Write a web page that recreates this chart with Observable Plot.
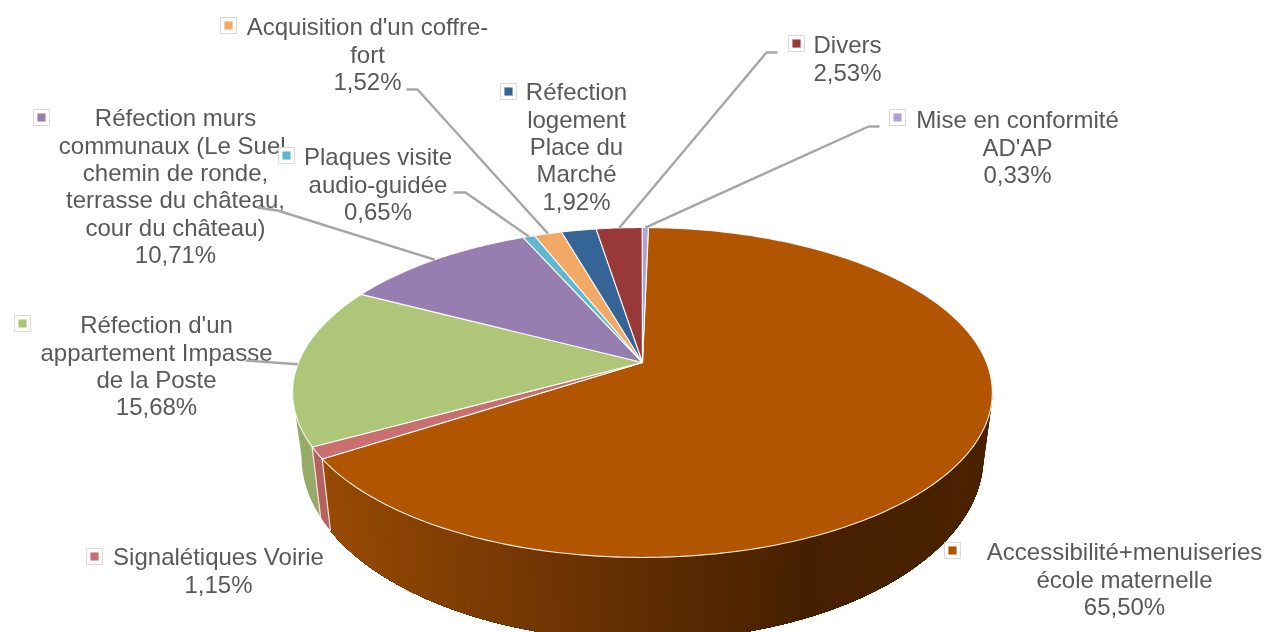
<!DOCTYPE html>
<html lang="fr">
<head>
<meta charset="utf-8">
<style>html,body{margin:0;padding:0;background:#fff;overflow:hidden}</style>
<script src="https://cdn.jsdelivr.net/npm/d3@7"></script>
<script src="https://cdn.jsdelivr.net/npm/@observablehq/plot@0.6"></script>
</head>
<body>
<div id="chart"></div>
<script>
// ---- data, clockwise from the top of the pie, percent
const categories = [
  "Accessibilité+menuiseries école maternelle",
  "Signalétiques Voirie",
  "Réfection d'un appartement Impasse de la Poste",
  "Réfection murs communaux (Le Suel, chemin de ronde, terrasse du château, cour du château)",
  "Plaques visite audio-guidée",
  "Acquisition d'un coffre-fort",
  "Réfection logement Place du Marché",
  "Divers",
  "Mise en conformité AD'AP"
];
const values = [65.50, 1.15, 15.68, 10.71, 0.65, 1.52, 1.92, 2.53, 0.33];
const percentLabels = ["65,50%","1,15%","15,68%","10,71%","0,65%","1,52%","1,92%","2,53%","0,33%"];
const colors = ["#b25500","#c96f6f","#adc677","#977eb0","#5fb8d0","#f3a966","#376496","#983937","#b3a2cf"];
const wallColors = [null,"#b5615f","#97ab68"];
// wrapped label lines, as set in the picture
const labelLines = [
  ["Accessibilité+menuiseries","école maternelle"],
  ["Signalétiques Voirie"],
  ["Réfection d'un","appartement Impasse","de la Poste"],
  ["Réfection murs","communaux (Le Suel,","chemin de ronde,","terrasse du château,","cour du château)"],
  ["Plaques visite","audio-guidée"],
  ["Acquisition d'un coffre-","fort"],
  ["Réfection","logement","Place du","Marché"],
  ["Divers"],
  ["Mise en conformité","AD'AP"]
];

// ---- layout of the annotations
const labelCx = [1124,218,156,175,377.5,367,576,847,1017];
const labelTop = [552,557,325,118,157,27,92,45,120];
const lineStep = 27.4;
const keyX = [952,94,22,41,286,228,508,796,897];
const keyY = [550,556,323,117,155,25,91,43,117];
const leaderStart = [null,null,[245,360],[257,207],[453,192],[406,89],null,[777,52],[879,126]];
const leaderElbow = [null,null,null,[277,210],[465,192],[417,89],null,[766,52],[868,126]];

// ---- pie geometry (perspective view of a circle)
const cx = 642, cy = 362, k = -0.1818, a = 159.5, b = 344;
const topE = {cy:392, rx:350, ry:165}, lowE = {cy:456, rx:341, ry:184};
const rad = d => d * Math.PI / 180;
const rim = t => {
  const u = Math.sin(rad(t)), v = -Math.cos(rad(t)), w = 1 + k * v;
  return [cx + b * u / w, cy + a * v / w];
};
const ell = (E, p) => [cx + E.rx * Math.sin(rad(p)), E.cy - E.ry * Math.cos(rad(p))];
const phiOf = t => {
  const [x, y] = rim(t);
  let p = Math.atan2((x - cx) / topE.rx, -(y - topE.cy) / topE.ry) * 180 / Math.PI;
  return p < 0 ? p + 360 : p;
};

const start0 = values[8] * 3.6;
let acc = start0;
const slices = values.map((v, i) => {
  const s = {i, t0: acc, t1: acc + v * 3.6};
  acc = s.t1;
  return s;
});

// top faces
const topPts = [];
slices.forEach(s => {
  const n = Math.max(2, Math.ceil(s.t1 - s.t0));
  const add = (x, y) => topPts.push({x, y, z: s.i, fill: colors[s.i]});
  add(cx, cy);
  for (let j = 0; j <= n; j++) { const [x, y] = rim(s.t0 + (s.t1 - s.t0) * j / n); add(x, y); }
  add(cx, cy);
});

// side wall: overlapping strips so no seams show
const orangeShade = d3.scaleLinear()
  .domain([330,400,550,640,750,800,990])
  .range(["#984b05","#8a4303","#703504","#5f2d02","#4f2401","#452000","#4a2200"]);
const phiA = phiOf(slices[0].t1), phiS = phiOf(slices[1].t1);
const wallPts = [];
const strip = (p0, p1, fill, id) => {
  const arc = [];
  const steps = Math.max(1, Math.ceil(p1 - p0));
  for (let j = 0; j <= steps; j++) arc.push(p0 + (p1 - p0) * j / steps);
  const pts = [...arc.map(p => ell(topE, p)), ...arc.reverse().map(p => ell(lowE, p))];
  pts.push(pts[0]);
  pts.forEach(([x, y]) => wallPts.push({x, y, z: id, fill}));
};
let id = 0;
// painted from the far end back so that each strip's leading edge stays clean
for (let p = 90; p < phiA; p += 1) {
  strip(p, phiA, orangeShade(ell(lowE, p + 0.5)[0]), id++);
}
strip(phiA, phiS, wallColors[1], id++);
strip(phiS, 270, wallColors[2], id++);
const edges = [phiA, phiS].flatMap((p, i) => {
  const [x0, y0] = ell(topE, p), [x1, y1] = ell(lowE, p);
  return [{x: x0, y: y0, z: i}, {x: x1, y: y1, z: i}];
});

// rows for text
const textRows = labelLines.flatMap((ls, i) =>
  [...ls, percentLabels[i]].map((t, j) => ({t, x: labelCx[i], y: labelTop[i] + j * lineStep}))
);
// leaders: from label, through elbow, to the middle of the slice's rim
const leaders = slices.flatMap(s => {
  if (!leaderStart[s.i]) return [];
  const pts = [leaderStart[s.i]];
  if (leaderElbow[s.i]) pts.push(leaderElbow[s.i]);
  pts.push(rim((s.t0 + s.t1) / 2));
  return pts.map(([x, y]) => ({x, y, z: s.i}));
});
const keys = colors.map((c, i) => ({x: keyX[i], y: keyY[i], c}));

const chart = Plot.plot({
  width: 1269, height: 632, margin: 0,
  x: {domain: [0, 1269], range: [0, 1269], axis: null},
  y: {domain: [0, 632], range: [0, 632], axis: null},
  style: {fontFamily: "'Liberation Sans', Arial, sans-serif", background: "#fff", overflow: "hidden", filter: "blur(0.55px)"},
  marks: [
    Plot.line(wallPts, {x: "x", y: "y", z: "z", fill: "fill", stroke: "none"}),
    Plot.line(edges, {x: "x", y: "y", z: "z", stroke: "#f3e6e0", strokeWidth: 1.2}),
    Plot.line(topPts, {x: "x", y: "y", z: "z", fill: "fill", stroke: "#fff", strokeWidth: 1.1, strokeOpacity: 0.9, strokeLinejoin: "round"}),
    Plot.text(textRows, {x: "x", y: "y", text: "t", fontSize: 24, fill: "#595959", textAnchor: "middle", lineAnchor: "middle"}),
    Plot.line(leaders, {x: "x", y: "y", z: "z", stroke: "#a6a6a6", strokeWidth: 2.4, strokeLinejoin: "miter", strokeLinecap: "butt"}),
    Plot.dot(keys, {x: "x", y: "y", symbol: "square", r: 9, fill: "#fff", stroke: "#d9d9d9", strokeWidth: 1}),
    Plot.dot(keys, {x: "x", y: "y", symbol: "square", r: 4.6, fill: "c", stroke: "none"})
  ]
});
document.getElementById("chart").appendChild(chart);
</script>
</body>
</html>
